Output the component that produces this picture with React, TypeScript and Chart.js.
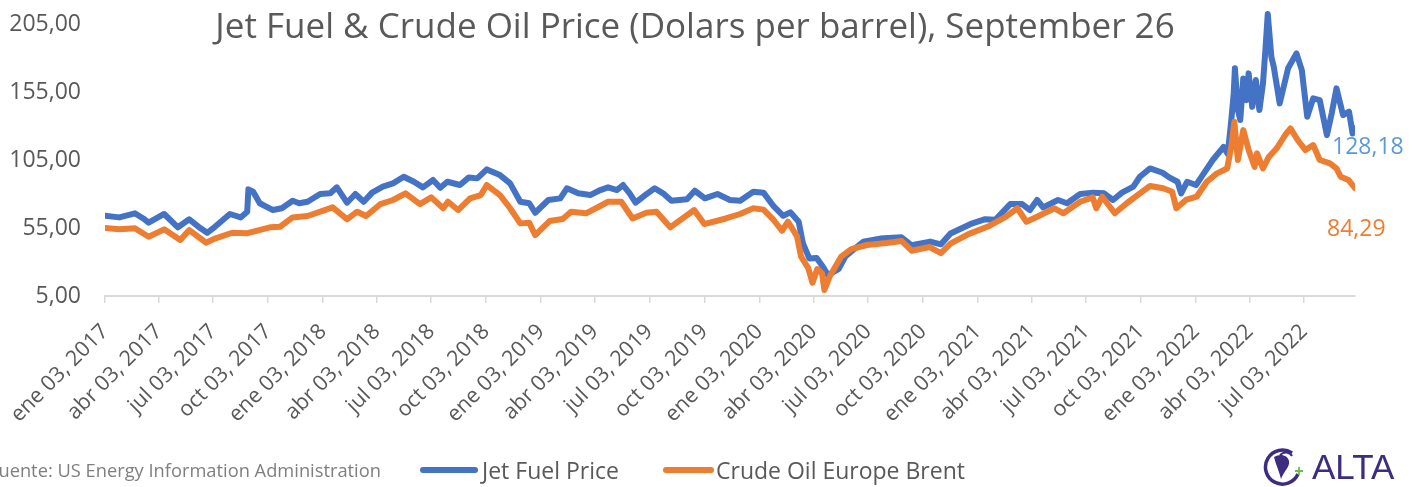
import { useEffect, useRef } from "react";
import { Chart, registerables } from "chart.js";

Chart.register(...registerables);

const START = Date.UTC(2017, 0, 3);
const dayOf = (s: string) => {
  const [y, m, d] = s.split("-").map(Number);
  return (Date.UTC(y, m - 1, d) - START) / 86400000;
};

const xTickDates = [
  "2017-01-03", "2017-04-03", "2017-07-03", "2017-10-03",
  "2018-01-03", "2018-04-03", "2018-07-03", "2018-10-03",
  "2019-01-03", "2019-04-03", "2019-07-03", "2019-10-03",
  "2020-01-03", "2020-04-03", "2020-07-03", "2020-10-03",
  "2021-01-03", "2021-04-03", "2021-07-03", "2021-10-03",
  "2022-01-03", "2022-04-03", "2022-07-03",
];
const xTickLabels = [
  "ene 03, 2017", "abr 03, 2017", "jul 03, 2017", "oct 03, 2017",
  "ene 03, 2018", "abr 03, 2018", "jul 03, 2018", "oct 03, 2018",
  "ene 03, 2019", "abr 03, 2019", "jul 03, 2019", "oct 03, 2019",
  "ene 03, 2020", "abr 03, 2020", "jul 03, 2020", "oct 03, 2020",
  "ene 03, 2021", "abr 03, 2021", "jul 03, 2021", "oct 03, 2021",
  "ene 03, 2022", "abr 03, 2022", "jul 03, 2022",
];
const yTickValues = [5, 55, 105, 155, 205];
const xFirstDate = "2017-01-03";
const xLastDate = "2022-09-26";

const jetDates = [
  "2017-01-03", "2017-01-27", "2017-02-22", "2017-03-08", "2017-03-17", "2017-04-12", "2017-05-05", "2017-05-24",
  "2017-06-12", "2017-06-23", "2017-07-06", "2017-07-31", "2017-08-18", "2017-08-29", "2017-08-31", "2017-09-08",
  "2017-09-19", "2017-10-11", "2017-10-26", "2017-11-13", "2017-11-24", "2017-12-08", "2017-12-29",
  "2018-01-15", "2018-01-26", "2018-02-12", "2018-02-26", "2018-03-12", "2018-03-26", "2018-04-13", "2018-04-30",
  "2018-05-18", "2018-06-04", "2018-06-19", "2018-07-06", "2018-07-18", "2018-07-30", "2018-08-20", "2018-09-04",
  "2018-09-18", "2018-10-04", "2018-10-26", "2018-11-12", "2018-11-29", "2018-12-14", "2018-12-24",
  "2019-01-15", "2019-02-04", "2019-02-15", "2019-03-06", "2019-03-26", "2019-04-12", "2019-04-25", "2019-05-10",
  "2019-05-20", "2019-05-31", "2019-06-10", "2019-06-26", "2019-07-12", "2019-07-26", "2019-08-09", "2019-09-04",
  "2019-09-17", "2019-10-04", "2019-10-25", "2019-11-15", "2019-12-02", "2019-12-24",
  "2020-01-10", "2020-01-27", "2020-02-12", "2020-02-24", "2020-03-09", "2020-03-16", "2020-03-27", "2020-04-08",
  "2020-04-17", "2020-04-27", "2020-05-15", "2020-05-26", "2020-06-08", "2020-06-25", "2020-07-23", "2020-08-28",
  "2020-09-14", "2020-10-15", "2020-11-02", "2020-11-18", "2020-12-21",
  "2021-01-15", "2021-02-01", "2021-02-26", "2021-03-18", "2021-03-31", "2021-04-12", "2021-04-22", "2021-05-17",
  "2021-06-01", "2021-06-23", "2021-07-15", "2021-08-02", "2021-08-17", "2021-09-01", "2021-09-20", "2021-10-01",
  "2021-10-18", "2021-11-08", "2021-11-19", "2021-12-03", "2021-12-09", "2021-12-19",
  "2022-01-03", "2022-01-14", "2022-01-31", "2022-02-18", "2022-02-25", "2022-03-03", "2022-03-07", "2022-03-09",
  "2022-03-14", "2022-03-18", "2022-03-23", "2022-03-28", "2022-04-01", "2022-04-07", "2022-04-13", "2022-04-19",
  "2022-04-25", "2022-04-29", "2022-05-03", "2022-05-09", "2022-05-13", "2022-05-23", "2022-06-06", "2022-06-20",
  "2022-06-29", "2022-07-08", "2022-07-18", "2022-07-29", "2022-08-10", "2022-08-18", "2022-08-26", "2022-09-06",
  "2022-09-16", "2022-09-22", "2022-09-26",
];
const jetValues = [
  64, 62.8, 65.8, 62, 58.9, 65.3, 55.5, 61.4,
  54.8, 51.5, 55.9, 65.3, 62.8, 67, 83.4, 81.7,
  73.2, 68.2, 69.5, 75, 73.2, 74.3, 80,
  80.5, 84.9, 73.6, 80, 74.3, 81, 85.4, 87.8,
  92.7, 89, 84.9, 90.3, 84.6, 89, 86.6, 92.2,
  91.5, 98.1, 93.9, 87.8, 74.3, 73.2, 66.2,
  75.6, 76.8, 84.2, 80.5, 79.2, 82.9, 84.9, 82.9,
  86.6, 80.5, 73.6, 79.2, 84.2, 80.5, 75, 76.1,
  82.4, 76.8, 80, 75.6, 75, 81.7,
  81, 71, 64, 66.5, 59.6, 43.7, 32.5, 33,
  27.5, 20.4, 25, 34, 38.8, 44.9, 47.2, 48.2,
  42.3, 45, 43, 51, 57.8,
  61.5, 61, 72.6, 72.6, 68.2, 75.6, 70.2, 75.6,
  73.2, 80, 81, 80.5, 75.6, 81, 85.4, 92.7,
  98.8, 95.6, 92.2, 89, 80.5, 89,
  86.6, 93.9, 105, 114.7, 109.4, 134.4, 154, 172.4,
  141.7, 134.4, 165, 149, 168.7, 144.1, 163.8, 141.7,
  161.3, 185.8, 212.3, 180.9, 173.6, 146.6, 172.4, 183.4,
  171.1, 136.8, 150.3, 149, 123.3, 139.3, 157.7, 138,
  140.5, 124.5, 128.18,
];

const brentDates = [
  "2017-01-03", "2017-01-27", "2017-02-22", "2017-03-17", "2017-04-12", "2017-05-09", "2017-05-24", "2017-06-21",
  "2017-07-07", "2017-08-04", "2017-08-28", "2017-10-06", "2017-10-23", "2017-11-13", "2017-12-08",
  "2018-01-19", "2018-02-12", "2018-03-01", "2018-03-16", "2018-04-09", "2018-04-30", "2018-05-21", "2018-06-14",
  "2018-07-03", "2018-07-23", "2018-07-31", "2018-08-17", "2018-09-06", "2018-09-24", "2018-10-04", "2018-10-26",
  "2018-11-12", "2018-11-29", "2018-12-14", "2018-12-24",
  "2019-01-17", "2019-02-08", "2019-02-22", "2019-03-19", "2019-04-11", "2019-04-25", "2019-05-17", "2019-06-05",
  "2019-06-28", "2019-07-15", "2019-08-07", "2019-09-16", "2019-10-03", "2019-11-08", "2019-12-02", "2019-12-24",
  "2020-01-10", "2020-01-27", "2020-02-10", "2020-02-20", "2020-03-06", "2020-03-13", "2020-03-25", "2020-04-01",
  "2020-04-09", "2020-04-17", "2020-04-21", "2020-04-30", "2020-05-19", "2020-06-05", "2020-07-01", "2020-08-03",
  "2020-08-28", "2020-09-14", "2020-10-14", "2020-11-02", "2020-11-18", "2020-12-18",
  "2021-01-22", "2021-02-19", "2021-03-10", "2021-03-25", "2021-04-12", "2021-05-11", "2021-05-26", "2021-06-23",
  "2021-07-14", "2021-07-20", "2021-07-30", "2021-08-20", "2021-09-09", "2021-10-01", "2021-10-18", "2021-11-09",
  "2021-11-24", "2021-12-01", "2021-12-17",
  "2022-01-04", "2022-01-21", "2022-02-07", "2022-02-24", "2022-03-03", "2022-03-08", "2022-03-14", "2022-03-23",
  "2022-04-01", "2022-04-11", "2022-04-15", "2022-04-25", "2022-05-05", "2022-05-18", "2022-06-03", "2022-06-10",
  "2022-06-22", "2022-07-05", "2022-07-18", "2022-07-29", "2022-08-15", "2022-08-26", "2022-09-02", "2022-09-15",
  "2022-09-26",
];
const brentValues = [
  55, 54, 54.8, 48.6, 54, 46.2, 53.5, 44.2,
  47.4, 51.5, 51.1, 55.5, 55.9, 62.8, 63.8,
  70.2, 61.4, 67, 63.8, 72.6, 75.6, 80.5, 72.6,
  77.5, 69.5, 74.3, 68.2, 76.8, 79.2, 86.6, 79.2,
  69.5, 58.4, 58.9, 49.8,
  60.1, 61.6, 67, 65.8, 71, 74.3, 74.3, 62,
  66.2, 67, 55.5, 68.2, 57.9, 62, 65.3, 69.5,
  68.5, 60.9, 53, 59.6, 49, 33.9, 25.4, 14.8,
  24.8, 21.7, 9.4, 19.5, 33.9, 39.5, 42.5, 44,
  45.5, 38.3, 41, 36.5, 43.5, 50.5,
  56.5, 63.3, 69.5, 59.6, 63.3, 69.5, 65.8, 74.3,
  77.5, 69.5, 78, 65.8, 73.2, 80.5, 85.9, 84.2,
  81.7, 69.5, 75.6,
  78, 89, 95.2, 98.8, 114.8, 133.1, 105, 127,
  112.3, 100, 109.9, 98.8, 107.4, 113.6, 124.5, 128.2,
  119.7, 112.3, 116, 105, 102.5, 98.8, 92.7, 90.3,
  84.29,
];

const JET_COLOR = "#4472C4";
const BRENT_COLOR = "#ED7D31";
const TEXT = "#595959";
const FONT = '"Open Sans", sans-serif';

const fmt = (v: number) => v.toFixed(2).replace(".", ",");

const endLabels = {
  id: "endLabels",
  afterDatasetsDraw(chart: any) {
    const { ctx, scales } = chart;
    const xs = scales.x;
    const ys = scales.y;
    ctx.save();
    ctx.font = `23px ${FONT}`;
    ctx.textBaseline = "middle";
    ctx.textAlign = "left";
    const jl = jetValues.length - 1;
    const jx = xs.getPixelForValue(dayOf(jetDates[jl]));
    const jy = ys.getPixelForValue(jetValues[jl]);
    ctx.fillStyle = "#5B9BD5";
    ctx.fillText(fmt(jetValues[jl]), jx - 23, jy + 19);
    const bl = brentValues.length - 1;
    const bx = xs.getPixelForValue(dayOf(brentDates[bl]));
    const by = ys.getPixelForValue(brentValues[bl]);
    ctx.fillStyle = BRENT_COLOR;
    ctx.fillText(fmt(brentValues[bl]), bx - 28, by + 41);
    ctx.restore();
  },
};

export default function App() {
  const ref = useRef<HTMLCanvasElement>(null);

  useEffect(() => {
    if (!ref.current) return;
    const chart = new Chart(ref.current, {
      type: "line",
      data: {
        datasets: [
          {
            label: "Jet Fuel Price",
            data: jetDates.map((d, i) => ({ x: dayOf(d), y: jetValues[i] })),
            borderColor: JET_COLOR,
            backgroundColor: JET_COLOR,
            borderWidth: 6,
            pointRadius: 0,
            tension: 0,
            borderJoinStyle: "round",
            borderCapStyle: "round",
            order: 2,
          },
          {
            label: "Crude Oil Europe Brent",
            data: brentDates.map((d, i) => ({ x: dayOf(d), y: brentValues[i] })),
            borderColor: BRENT_COLOR,
            backgroundColor: BRENT_COLOR,
            borderWidth: 6,
            pointRadius: 0,
            tension: 0,
            borderJoinStyle: "round",
            borderCapStyle: "round",
            order: 1,
          },
        ],
      },
      options: {
        responsive: false,
        animation: false,
        devicePixelRatio: 1,
        layout: { padding: { top: 10.4, right: 61, left: 0, bottom: 0 } },
        plugins: {
          legend: { display: false },
          tooltip: { enabled: false },
        },
        scales: {
          x: {
            type: "linear",
            min: dayOf(xFirstDate),
            max: dayOf(xLastDate),
            afterBuildTicks: (s: any) => {
              s.ticks = xTickDates.map((d) => ({ value: dayOf(d) }));
            },
            afterFit: (s: any) => {
              s.height = 191;
              s.paddingLeft = 0;
              s.paddingRight = 0;
            },
            ticks: {
              autoSkip: false,
              minRotation: 45,
              maxRotation: 45,
              padding: 16,
              color: TEXT,
              font: { family: FONT, size: 21.5 },
              callback: (_v: any, i: number) => xTickLabels[i],
            },
            grid: {
              display: true,
              drawOnChartArea: false,
              drawTicks: true,
              tickLength: 7,
              color: "#d9d9d9",
              lineWidth: 1.5,
            },
            border: { display: true, color: "#d9d9d9", width: 2 },
          },
          y: {
            type: "linear",
            min: 5,
            max: 215,
            afterBuildTicks: (s: any) => {
              s.ticks = yTickValues.map((v) => ({ value: v }));
            },
            afterFit: (s: any) => {
              s.width = 105;
              s.paddingTop = 0;
              s.paddingBottom = 0;
            },
            ticks: {
              padding: 24,
              color: TEXT,
              font: { family: FONT, size: 23 },
              callback: (v: any) => fmt(Number(v)),
            },
            grid: { display: false, drawTicks: false },
            border: { display: false },
          },
        },
      },
      plugins: [endLabels],
    } as any);
    return () => chart.destroy();
  }, []);

  return (
    <div
      style={{
        position: "absolute",
        left: 0,
        top: 0,
        width: 1416,
        height: 487,
        background: "#ffffff",
        overflow: "hidden",
        fontFamily: FONT,
      }}
    >
      <canvas
        ref={ref}
        width={1416}
        height={487}
        style={{ position: "absolute", left: 0, top: 0, width: 1416, height: 487 }}
      />
      <div
        style={{
          position: "absolute",
          left: 695,
          top: 1,
          transform: "translateX(-50%)",
          whiteSpace: "nowrap",
          fontSize: 35,
          lineHeight: "48px",
          color: TEXT,
        }}
      >
        Jet Fuel &amp; Crude Oil Price (Dolars per barrel), September 26
      </div>
      <div
        style={{
          position: "absolute",
          left: -11,
          top: 458,
          whiteSpace: "nowrap",
          fontSize: 18.3,
          lineHeight: "24px",
          color: "#7f7f7f",
        }}
      >
        Fuente: US Energy Information Administration
      </div>
      <div style={{ position: "absolute", left: 420, top: 467, width: 58, height: 6, borderRadius: 3, background: JET_COLOR }} />
      <div
        style={{ position: "absolute", left: 482, top: 454, whiteSpace: "nowrap", fontSize: 23, lineHeight: "32px", color: TEXT }}
      >
        Jet Fuel Price
      </div>
      <div style={{ position: "absolute", left: 663, top: 467, width: 51, height: 6, borderRadius: 3, background: BRENT_COLOR }} />
      <div
        style={{ position: "absolute", left: 716, top: 454, whiteSpace: "nowrap", fontSize: 23, lineHeight: "32px", color: TEXT }}
      >
        Crude Oil Europe Brent
      </div>
      <svg
        style={{ position: "absolute", left: 1262, top: 447 }}
        width={46}
        height={40}
        viewBox="0 0 46 40"
      >
        <path d="M30 6 A17 17 0 1 0 36 27" fill="none" stroke="#3d2c80" strokeWidth={3.5} />
        <path d="M12 10 C18 6 26 8 27 14 C28 20 22 24 19 32 C17 24 14 18 12 10 Z" fill="#3d2c80" />
        <path d="M18 8 C22 4 28 5 30 9" fill="none" stroke="#3d2c80" strokeWidth={2} />
        <path d="M37 20 L37 28 M33 24 L41 24" stroke="#6abf4b" strokeWidth={1.8} />
      </svg>
      <div
        style={{
          position: "absolute",
          left: 1312,
          top: 447,
          whiteSpace: "nowrap",
          fontFamily: '"Liberation Sans", Arial, sans-serif',
          fontSize: 35,
          lineHeight: "40px",
          color: "#3d2c80",
        }}
      >
        ALTA
      </div>
    </div>
  );
}
